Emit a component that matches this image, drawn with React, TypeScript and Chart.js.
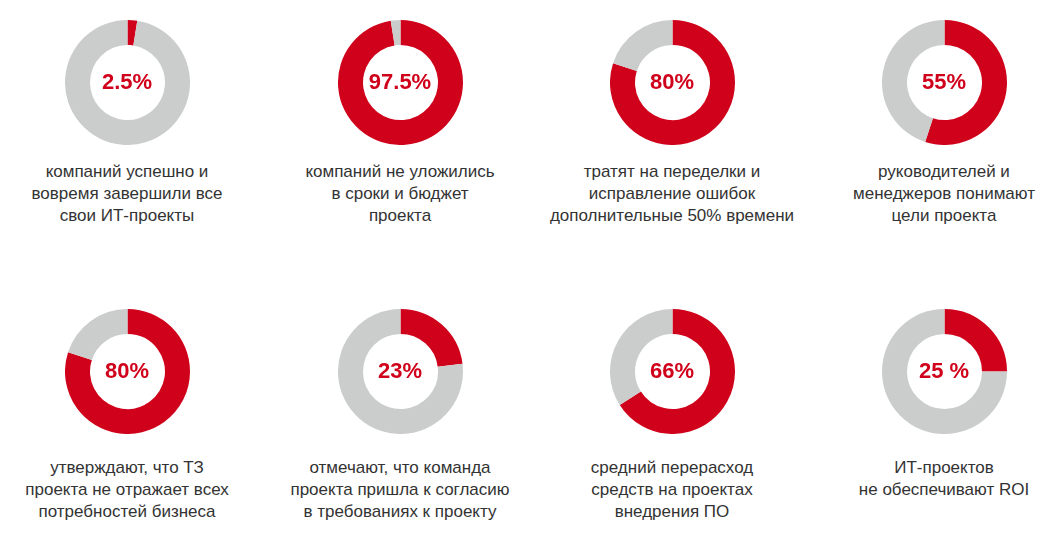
import { useEffect, useRef } from "react";
import { Chart, ArcElement, DoughnutController } from "chart.js";

Chart.register(ArcElement, DoughnutController);

const shares = [2.5, 97.5, 80, 55, 80, 23, 66, 25];
const centerLabels = ["2.5%", "97.5%", "80%", "55%", "80%", "23%", "66%", "25 %"];
const captions = [
  ["компаний успешно и", "вовремя завершили все", "свои ИТ-проекты"],
  ["компаний не уложились", "в сроки и бюджет", "проекта"],
  ["тратят на переделки и", "исправление ошибок", "дополнительные 50% времени"],
  ["руководителей и", "менеджеров понимают", "цели проекта"],
  ["утверждают, что ТЗ", "проекта не отражает всех", "потребностей бизнеса"],
  ["отмечают, что команда", "проекта пришла к согласию", "в требованиях к проекту"],
  ["средний перерасход", "средств на проектах", "внедрения ПО"],
  ["ИТ-проектов", "не обеспечивают ROI"],
];

const RED = "#d0021b";
const GREY = "#cbcccc";
const colX = [127, 400, 672, 944];
const rowY = [82, 371];
const captionTop = [161, 457];
const SIZE = 125;

function Donut({ value, label, lines, cx, cy, ty }: { value: number; label: string; lines: string[]; cx: number; cy: number; ty: number }) {
  const canvasRef = useRef<HTMLCanvasElement>(null);

  useEffect(() => {
    if (!canvasRef.current) return;
    const chart = new Chart(canvasRef.current, {
      type: "doughnut",
      data: {
        labels: ["yes", "rest"],
        datasets: [
          {
            data: [value, 100 - value],
            backgroundColor: [RED, GREY],
            borderWidth: 0,
          },
        ],
      },
      options: {
        responsive: false,
        animation: false,
        cutout: "60%",
        events: [],
        plugins: { legend: { display: false }, tooltip: { enabled: false } },
      },
    });
    return () => chart.destroy();
  }, [value]);

  return (
    <>
      <div style={{ position: "absolute", left: cx - SIZE / 2, top: cy - SIZE / 2, width: SIZE, height: SIZE }}>
        <canvas ref={canvasRef} width={SIZE} height={SIZE} style={{ width: SIZE, height: SIZE }} />
        <div
          style={{
            position: "absolute",
            inset: 0,
            display: "flex",
            alignItems: "center",
            justifyContent: "center",
            color: RED,
            fontWeight: "bold",
            fontSize: 22,
          }}
        >
          {label}
        </div>
      </div>
      <div
        style={{
          position: "absolute",
          left: cx - 140,
          width: 280,
          top: ty,
          textAlign: "center",
          color: "#333",
          fontSize: 17,
          lineHeight: "21.8px",
        }}
      >
        {lines.map((l, i) => (
          <div key={i}>{l}</div>
        ))}
      </div>
    </>
  );
}

export default function App() {
  return (
    <div
      style={{
        position: "absolute",
        left: 0,
        top: 0,
        width: 1056,
        height: 542,
        background: "#fff",
        fontFamily: "'Liberation Sans', Arial, sans-serif",
      }}
    >
      {shares.map((v, i) => (
        <Donut
          key={i}
          value={v}
          label={centerLabels[i]}
          lines={captions[i]}
          cx={colX[i % 4]}
          cy={rowY[Math.floor(i / 4)]}
          ty={captionTop[Math.floor(i / 4)]}
        />
      ))}
    </div>
  );
}
